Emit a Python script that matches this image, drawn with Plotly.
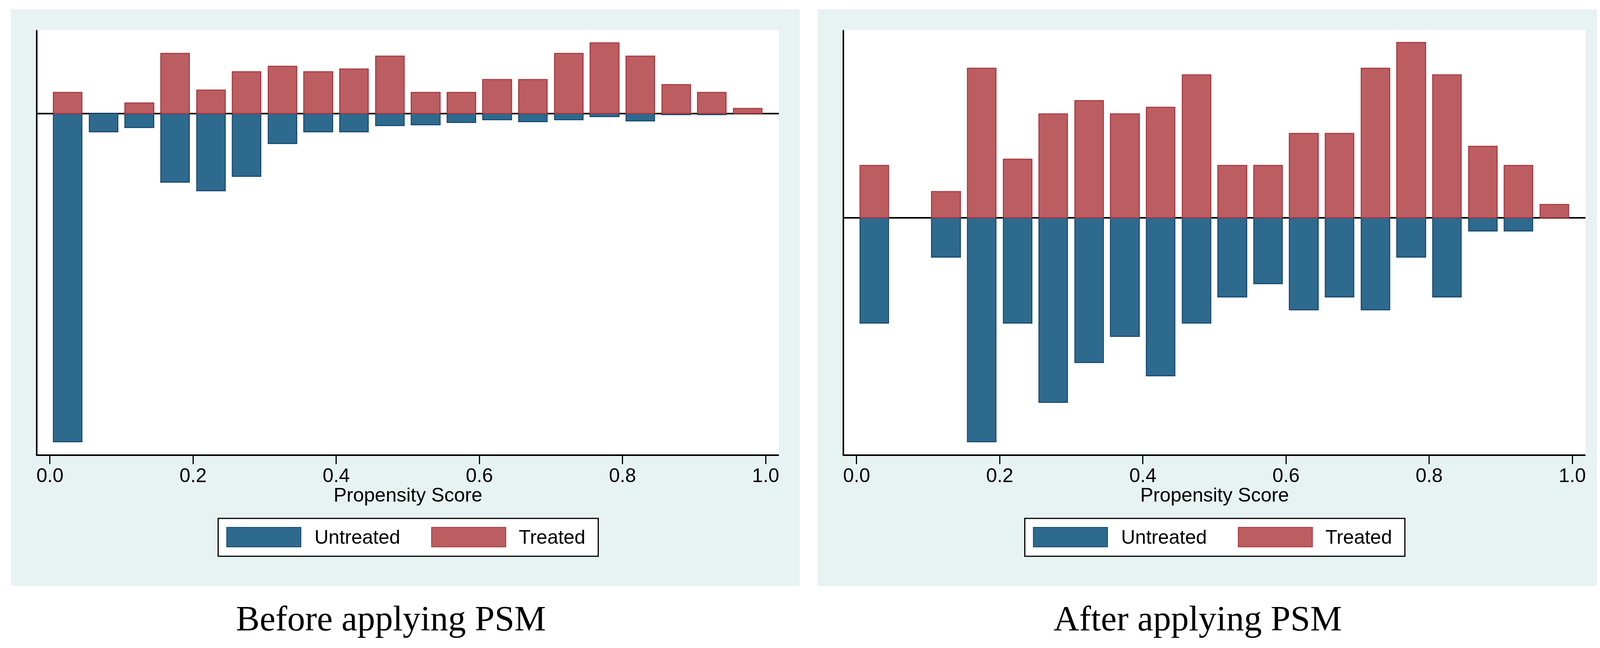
import plotly.graph_objects as go

# propensity score bins (centres) and tick labels
bin_mid = [0.025, 0.075, 0.125, 0.175, 0.225, 0.275, 0.325, 0.375, 0.425, 0.475,
           0.525, 0.575, 0.625, 0.675, 0.725, 0.775, 0.825, 0.875, 0.925, 0.975]
tick_vals = [0.0, 0.2, 0.4, 0.6, 0.8, 1.0]
tick_text = ["0.0", "0.2", "0.4", "0.6", "0.8", "1.0"]

# share of each group per bin, in percent
treated_pct = [2.99, 0.0, 1.49, 8.58, 3.36, 5.97, 6.72, 5.97, 6.34, 8.21,
               2.99, 2.99, 4.85, 4.85, 8.58, 10.07, 8.21, 4.10, 2.99, 0.75]
untreated_before_pct = [46.83, 2.60, 1.99, 9.82, 11.01, 8.95, 4.27, 2.60, 2.60, 1.70,
                        1.59, 1.30, 0.91, 1.19, 0.91, 0.43, 1.04, 0.15, 0.15, 0.0]
untreated_after_pct = [6.06, 0.0, 2.27, 12.88, 6.06, 10.61, 8.33, 6.82, 9.09, 6.06,
                       4.55, 3.79, 5.30, 4.55, 5.30, 2.27, 4.55, 0.76, 0.76, 0.0]

panels = [
    ("Before applying PSM", untreated_before_pct, [-48.61, 11.92]),
    ("After applying PSM", untreated_after_pct, [-13.59, 10.78]),
]

# the page body adds an 8px margin, so the figure is a bit smaller and shifted
M = 8
W, H = 4133 - M, 1660 - M
BLUE, BLUE_LINE = "#2d6a8e", "#16476f"
RED, RED_LINE = "#bc5d62", "#a4343c"
BG = "#e7f2f2"
SANS = "Liberation Sans, Arial, sans-serif"
SERIF = "Liberation Serif, Times New Roman, serif"


def px(x):
    return (x - M) / W


def py(y):
    return 1 - (y - M) / H


def nz(vals, sign=1):
    # empty bins are not drawn at all
    return [sign * v if v else None for v in vals]


fig = go.Figure()
shapes = []
annotations = []

for i, (caption, untreated, yrange) in enumerate(panels):
    off = i * 2067
    xa = "x" if i == 0 else "x2"
    ya = "y" if i == 0 else "y2"

    fig.add_trace(go.Bar(
        x=bin_mid, y=nz(untreated, -1), width=0.04, name="Untreated",
        marker=dict(color=BLUE, line=dict(color=BLUE_LINE, width=2.5)),
        xaxis=xa, yaxis=ya, showlegend=False,
    ))
    fig.add_trace(go.Bar(
        x=bin_mid, y=nz(treated_pct), width=0.04, name="Treated",
        marker=dict(color=RED, line=dict(color=RED_LINE, width=2.5)),
        xaxis=xa, yaxis=ya, showlegend=False,
    ))

    axis_x = dict(
        domain=[px(93 + off), px(1993 + off)], range=[-0.01745, 1.01854],
        showline=True, linecolor="black", linewidth=4, showgrid=False, zeroline=False,
        ticks="outside", ticklen=21, tickwidth=3, tickcolor="black",
        tickvals=tick_vals, ticktext=tick_text, ticklabelstandoff=-14,
        tickfont=dict(family=SANS, size=50, color="black"),
        anchor=ya, fixedrange=True,
    )
    axis_y = dict(
        domain=[py(1164), py(77)], range=yrange,
        showline=True, linecolor="black", linewidth=4, showgrid=False,
        zeroline=True, zerolinecolor="black", zerolinewidth=4,
        showticklabels=False, ticks="", anchor=xa, fixedrange=True,
    )
    if i == 0:
        fig.update_layout(xaxis=axis_x, yaxis=axis_y)
    else:
        fig.update_layout(xaxis2=axis_x, yaxis2=axis_y)

    # panel background and white plot region
    shapes.append(dict(type="rect", xref="paper", yref="paper", layer="below",
                       x0=px(25 + off), x1=px(2046 + off), y0=py(1501), y1=py(24),
                       fillcolor=BG, line=dict(width=0)))
    shapes.append(dict(type="rect", xref="paper", yref="paper", layer="below",
                       x0=px(93 + off), x1=px(1993 + off), y0=py(1164), y1=py(77),
                       fillcolor="white", line=dict(width=0)))

    # x axis title
    annotations.append(dict(text="Propensity Score", xref="paper", yref="paper",
                            x=px(1043 + off), y=py(1268), xanchor="center", yanchor="middle",
                            showarrow=False, font=dict(family=SANS, size=50, color="black")))

    # legend box
    shapes.append(dict(type="rect", xref="paper", yref="paper",
                       x0=px(556 + off), x1=px(1530 + off), y0=py(1425), y1=py(1328),
                       fillcolor="white", line=dict(color="black", width=3)))
    for name, sx, tx, fill, edge in [("Untreated", 578, 801, BLUE, BLUE_LINE),
                                     ("Treated", 1103, 1324, RED, RED_LINE)]:
        shapes.append(dict(type="rect", xref="paper", yref="paper",
                           x0=px(sx + off), x1=px(sx + 190 + off), y0=py(1401), y1=py(1351),
                           fillcolor=fill, line=dict(color=edge, width=2)))
        annotations.append(dict(text=name, xref="paper", yref="paper",
                                x=px(tx + off), y=py(1376), xanchor="left", yanchor="middle",
                                showarrow=False, font=dict(family=SANS, size=50, color="black")))

    # caption under the panel
    annotations.append(dict(text=caption, xref="paper", yref="paper",
                            x=px(999 + off), y=py(1584), xanchor="center", yanchor="middle",
                            showarrow=False, font=dict(family=SERIF, size=91, color="black")))

fig.update_layout(
    width=W, height=H,
    margin=dict(l=0, r=0, t=0, b=0, pad=0),
    paper_bgcolor="white", plot_bgcolor="white",
    barmode="overlay", bargap=0,
    shapes=shapes, annotations=annotations,
    showlegend=False,
)

fig.write_html("out.html")
